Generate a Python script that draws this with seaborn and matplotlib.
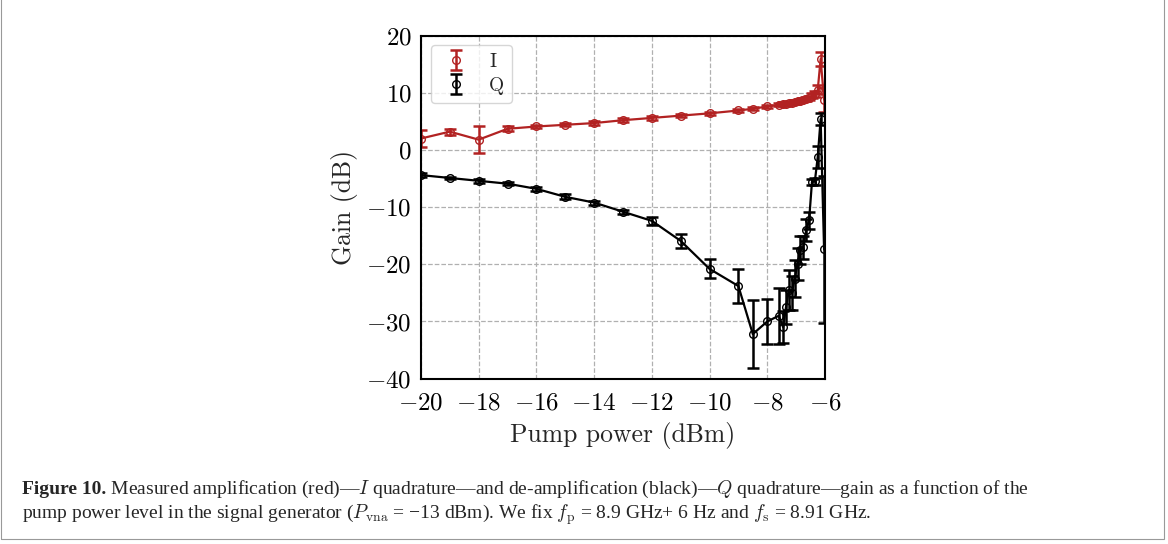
import numpy as np
import matplotlib
matplotlib.use("Agg")
import matplotlib.pyplot as plt
import seaborn as sns
from matplotlib.patches import Rectangle

# pump power (dBm), same sweep for both quadratures
pump = [-20, -19, -18, -17, -16, -15, -14, -13, -12, -11, -10, -9, -8.5, -8,
        -7.6, -7.45, -7.35, -7.25, -7.15, -7.05, -6.95, -6.85, -6.75, -6.65,
        -6.55, -6.45, -6.35, -6.25, -6.15, -6.03]

# I quadrature gain (dB) and error
gain_i = [2.0, 3.2, 1.8, 3.7, 4.1, 4.4, 4.7, 5.2, 5.6, 6.0, 6.4, 6.9, 7.2, 7.6,
          7.9, 8.0, 8.1, 8.15, 8.25, 8.4, 8.5, 8.6, 8.8, 8.9,
          9.1, 9.5, 9.8, 10.5, 15.9, 8.8]
err_i = [1.5, 0.5, 2.4, 0.4, 0.3, 0.3, 0.3, 0.3, 0.3, 0.3, 0.3, 0.3, 0.3, 0.3,
         0.3, 0.3, 0.3, 0.3, 0.3, 0.3, 0.3, 0.3, 0.3, 0.3,
         0.3, 0.4, 0.5, 0.8, 1.3, 2.1]

# Q quadrature gain (dB) and error
gain_q = [-4.4, -4.9, -5.4, -5.9, -6.8, -8.2, -9.2, -10.8, -12.4, -15.9, -20.8,
          -23.8, -32.2, -30.0,
          -29.0, -31.0, -27.5, -24.5, -25.0, -22.5, -20.0, -17.5, -17.0, -14.0,
          -12.3, -5.6, -5.5, -1.2, 5.4, -17.4]
err_q = [0.3, 0.2, 0.4, 0.3, 0.3, 0.45, 0.35, 0.35, 0.75, 1.2, 1.65, 2.9, 6.0, 3.9,
         4.9, 2.8, 3.0, 3.5, 3.0, 3.2, 2.8, 2.5, 2.0, 2.0,
         1.5, 0.5, 0.6, 1.9, 1.0, 12.8]

sns.set_style("white")
plt.rcParams["mathtext.fontset"] = "cm"
plt.rcParams["axes.formatter.use_mathtext"] = True
plt.rcParams["font.family"] = ["cmr10", "DejaVu Sans"]

fig = plt.figure(figsize=(11.68, 5.44), dpi=100)
ax = fig.add_axes([0.3604, 0.3039, 0.3459, 0.6307])

red = "#b22222"
style = dict(marker="o", mfc="none", ms=5.5, elinewidth=1.8, capsize=4.5, capthick=1.8)
ax.errorbar(pump, gain_i, yerr=err_i, color=red, lw=1.6, **style)
ax.errorbar(pump, gain_q, yerr=err_q, color="black", lw=1.6, **style)

# legend keys: marker + error bar only, no line
key_i = ax.errorbar([np.nan], [np.nan], yerr=[1], color=red, ls="none", label="I", **style)
key_q = ax.errorbar([np.nan], [np.nan], yerr=[1], color="black", ls="none", label="Q", **style)

ax.set_xlim(-20, -6)
ax.set_ylim(-40, 20)
ax.set_xticks(np.arange(-20, -5, 2))
ax.set_yticks(np.arange(-40, 21, 10))
ax.grid(True, color="#b0b0b0", ls="--", lw=0.9)
for s in ax.spines.values():
    s.set_color("black")
    s.set_linewidth(1.5)
ax.tick_params(direction="inout", length=6, width=1.5, labelsize=18, colors="black")
ax.tick_params(axis="x", pad=7)

ax.set_xlabel("Pump power (dBm)", fontsize=18.5, family="cmr10", labelpad=5)
ax.set_ylabel("Gain (dB)", fontsize=18.5, family="cmr10", labelpad=6)

ax.legend(handles=[key_i, key_q], loc="upper left", frameon=True, fancybox=True,
          framealpha=0.8, edgecolor="#cccccc", borderpad=0.4,
          handlelength=1.8, handletextpad=0.8, labelspacing=0.3,
          prop={"family": "cmr10", "size": 14})

# caption
cap_font = ["Liberation Serif", "DejaVu Serif"]
cap_size = 14
t1 = fig.text(0.019, 0.092, "Figure 10.", fontsize=cap_size, weight="bold",
              family=cap_font, va="baseline")
line1 = (r" Measured amplification (red)—$I$ quadrature—and de-amplification (black)"
         r"—$Q$ quadrature—gain as a function of the")
fig.canvas.draw()
bb = t1.get_window_extent()
fig.text(bb.x1 / fig.bbox.width, 0.092, line1, fontsize=cap_size, family=cap_font,
         va="baseline")
line2 = (r"pump power level in the signal generator ($P_{\mathrm{vna}}$ = −13 dBm). "
         r"We fix $f_{\mathrm{p}}$ = 8.9 GHz+ 6 Hz and $f_{\mathrm{s}}$ = 8.91 GHz.")
fig.text(0.019, 0.047, line2, fontsize=cap_size, family=cap_font, va="baseline")

fig.patches.append(Rectangle((0.001, 0.01), 0.996, 0.995, transform=fig.transFigure,
                             fill=False, edgecolor="#999999", lw=0.8))

fig.savefig("out.png", dpi=100)
